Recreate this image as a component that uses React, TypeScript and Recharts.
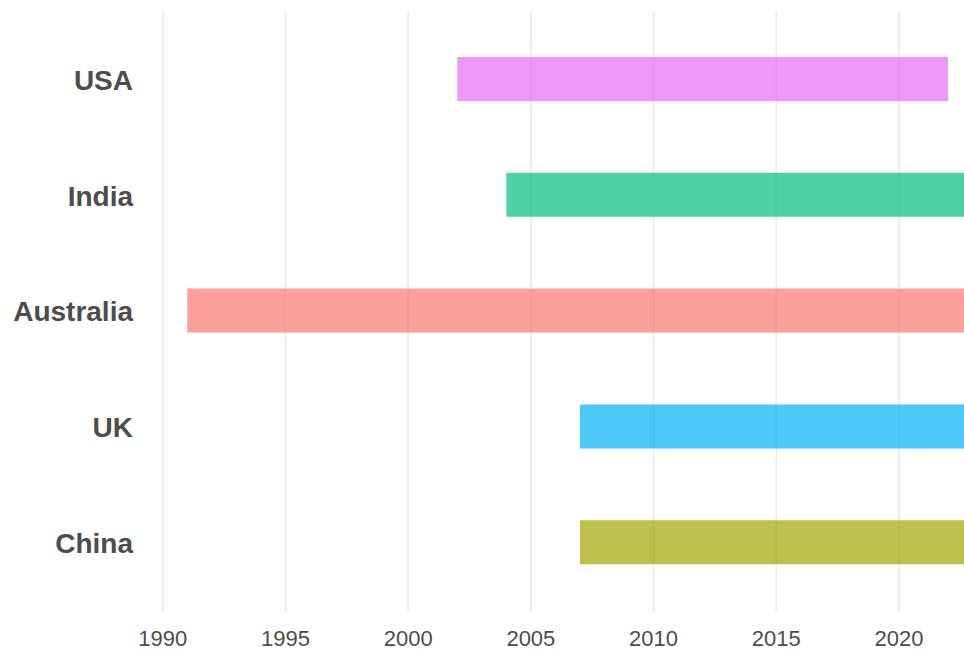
import React from "react";
import { BarChart, Bar, XAxis, YAxis, CartesianGrid, Cell } from "recharts";

const countries = ["USA", "India", "Australia", "UK", "China"];
const startYears = [2002, 2004, 1991, 2007, 2007];
const endYears = [2022, 2024, 2024, 2024, 2024];
const colors = ["#E76BF3", "#00BF7D", "#F8766D", "#00B0F6", "#A3A500"];
const yearTicks = [1990, 1995, 2000, 2005, 2010, 2015, 2020];

const data = countries.map((c, i) => ({ country: c, span: [startYears[i], endYears[i]] }));

export default function App() {
  return (
    <div style={{ position: "absolute", left: 0, top: 0, background: "#fff" }}>
      <BarChart
        width={964}
        height={653}
        data={data}
        layout="vertical"
        margin={{ top: 11, right: 0, bottom: 0, left: 0 }}
      >
        <CartesianGrid horizontal={false} stroke="#EBEBEB" strokeWidth={1.6} verticalValues={yearTicks} />
        <XAxis
          type="number"
          domain={[1988.99, 2022.65]}
          allowDataOverflow
          ticks={yearTicks}
          axisLine={false}
          tickLine={false}
          tickSize={0}
          tickMargin={18}
          height={41}
          tick={{ fill: "#4D4D4D", fontSize: 22, fontFamily: "Liberation Sans, Arial, sans-serif" }}
        />
        <YAxis
          type="category"
          dataKey="country"
          width={138}
          axisLine={false}
          tickLine={false}
          tickSize={0}
          tickMargin={5}
          padding={{ top: 10, bottom: 12 }}
          tick={{ fill: "#4D4D4D", fontSize: 28, fontWeight: "bold", fontFamily: "Liberation Sans, Arial, sans-serif", dy: 1 }}
        />
        <Bar dataKey="span" barSize={44} isAnimationActive={false}>
          {data.map((d, i) => (
            <Cell key={d.country} fill={colors[i]} fillOpacity={0.7} />
          ))}
        </Bar>
      </BarChart>
    </div>
  );
}
